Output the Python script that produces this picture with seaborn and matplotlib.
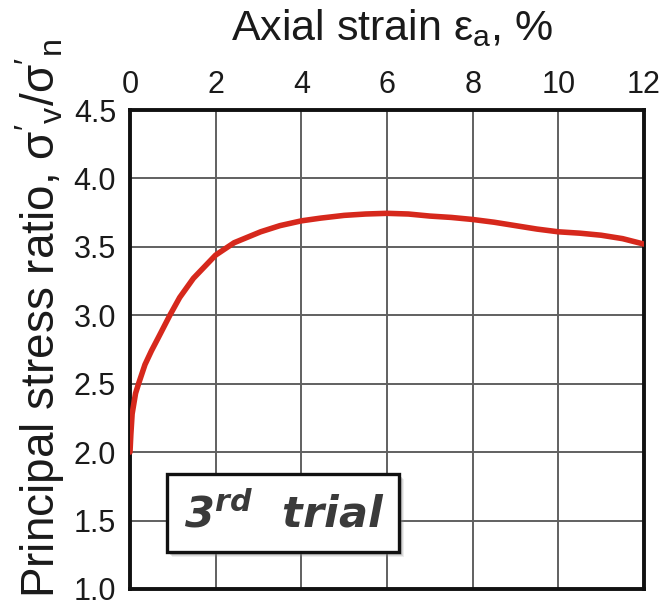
import matplotlib
matplotlib.use("Agg")
import matplotlib.pyplot as plt
import seaborn as sns
import pandas as pd
from matplotlib.patches import Rectangle

# Data
strain = [0.0, 0.02, 0.05, 0.13, 0.2, 0.35, 0.5, 0.65, 0.93, 1.16, 1.48, 2.0, 2.43,
          3.05, 3.5, 4.0, 4.45, 5.0, 5.5, 6.0, 6.5, 7.0, 7.5, 8.0, 8.5, 9.0, 9.5,
          10.0, 10.5, 11.0, 11.5, 12.0]
ratio = [2.0, 2.13, 2.28, 2.43, 2.5, 2.64, 2.74, 2.83, 3.0, 3.13, 3.27, 3.44, 3.53,
         3.61, 3.655, 3.69, 3.71, 3.73, 3.74, 3.745, 3.74, 3.725, 3.715, 3.70, 3.68,
         3.655, 3.63, 3.61, 3.60, 3.585, 3.56, 3.52]
x_ticks = [0, 2, 4, 6, 8, 10, 12]
y_ticks = [1.0, 1.5, 2.0, 2.5, 3.0, 3.5, 4.0, 4.5]
y_tick_labels = ["1.0", "1.5", "2.0", "2.5", "3.0", "3.5", "4.0", "4.5"]

sns.set_style("white")
plt.rcParams['font.family'] = ['Liberation Sans', 'DejaVu Sans']
plt.rcParams['mathtext.fontset'] = 'custom'
plt.rcParams['mathtext.rm'] = 'Liberation Sans'
plt.rcParams['mathtext.it'] = 'Liberation Sans:italic'
plt.rcParams['mathtext.bf'] = 'DejaVu Sans:bold:italic'

df = pd.DataFrame({"strain": strain, "ratio": ratio})

fig = plt.figure(figsize=(6.66, 6.09), dpi=100)
ax = fig.add_axes([130/666, 1 - 589/609, 514/666, 479/609])

sns.lineplot(data=df, x="strain", y="ratio", ax=ax, color="#d6281c", linewidth=4,
             zorder=3, solid_joinstyle='round', solid_capstyle='round', clip_on=True)

ax.set_xlim(0, 12)
ax.set_ylim(1.0, 4.5)
ax.set_xticks(x_ticks)
ax.set_yticks(y_ticks)
ax.set_yticklabels(y_tick_labels)
ax.xaxis.tick_top()
ax.tick_params(axis='both', length=0, labelsize=22, colors='#1a1a1a')
ax.tick_params(axis='y', pad=10)
ax.tick_params(axis='x', pad=7)
ax.grid(True, color='#606060', linewidth=1.4)
for s in ax.spines.values():
    s.set_visible(True)
    s.set_color('#111111')
    s.set_linewidth(2.8)
ax.set_xlabel("")
ax.set_ylabel("")

fig.text(392/666, 1 - 40/609, r"Axial strain $\mathrm{\varepsilon_a}$, %", fontsize=31,
         ha='center', va='baseline', color='#1a1a1a')
fig.text(40/666, 1 - 318/609, r"Principal stress ratio, $\mathrm{\sigma'_v/\sigma'_n}$",
         fontsize=33, rotation=90, ha='center', va='center', color='#1a1a1a')

# Annotation box with shadow
bx0, by0, bw, bh = (167-130)/514, (589-552)/479, (399-167)/514, (552-474)/479
for i, a in enumerate([0.15, 0.2, 0.3]):
    off = 0.010 - i * 0.002
    sh = Rectangle((bx0 + off, by0 - off * 1.1), bw, bh, transform=ax.transAxes,
                   facecolor='#888888', edgecolor='none', alpha=a, zorder=4)
    ax.add_patch(sh)
box = Rectangle((bx0, by0), bw, bh, transform=ax.transAxes,
                facecolor='white', edgecolor='#111111', linewidth=2.4, zorder=5)
ax.add_patch(box)
ax.text(284/666, 1 - 528/609, r"3$\mathbf{^{rd}}$  trial", transform=fig.transFigure,
        ha='center', va='baseline', fontsize=31, fontweight='bold', fontstyle='italic',
        family='DejaVu Sans', color='#3a3a3a', zorder=6)

fig.savefig("out.png", dpi=100)
